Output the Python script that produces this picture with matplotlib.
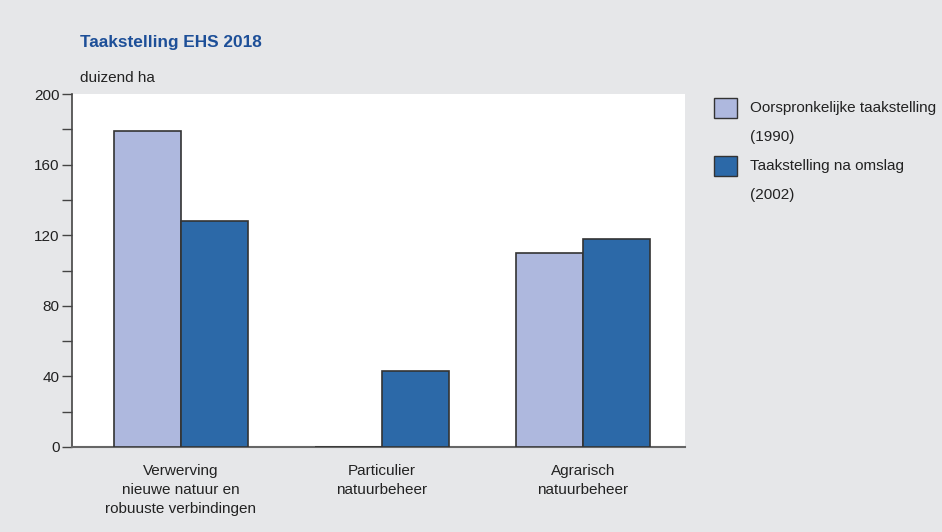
import matplotlib.pyplot as plt
from matplotlib.patches import Rectangle
from matplotlib.ticker import MultipleLocator
import numpy as np

plt.rcParams["font.family"] = ["Liberation Sans", "DejaVu Sans"]

categories = ["Verwerving\nnieuwe natuur en\nrobuuste verbindingen",
              "Particulier\nnatuurbeheer",
              "Agrarisch\nnatuurbeheer"]
orig_1990 = [179, 0, 110]
na_omslag_2002 = [128, 43, 118]
series_labels = ["Oorspronkelijke taakstelling\n(1990)", "Taakstelling na omslag\n(2002)"]

BG = "#e6e7e9"
LIGHT = "#aeb8de"
DARK = "#2c69a8"
EDGE = "#333333"
TITLE_BLUE = "#1d4f98"
FS = 11


def main():
    fig = plt.figure(figsize=(9.42, 5.32), dpi=100, facecolor=BG)
    W, H = 942, 532
    # plot area in pixels: x 72..685, y 94..447
    ax = fig.add_axes([72 / W, 1 - 447 / H, (685 - 72) / W, (447 - 94) / H])
    ax.set_facecolor("white")

    x = np.arange(len(categories))
    w = 0.333
    ax.bar(x - w / 2, orig_1990, width=w, color=LIGHT, edgecolor=EDGE, linewidth=1.2, zorder=3)
    ax.bar(x + w / 2, na_omslag_2002, width=w, color=DARK, edgecolor=EDGE, linewidth=1.2, zorder=3)

    ax.set_xlim(-0.542, 2.507)
    ax.set_ylim(0, 200)
    ax.yaxis.set_major_locator(MultipleLocator(40))
    ax.yaxis.set_minor_locator(MultipleLocator(20))
    ax.tick_params(axis="y", which="major", length=7, width=1, color="#444444",
                   labelsize=FS, labelcolor="#222222", pad=2)
    ax.tick_params(axis="y", which="minor", length=7, width=1, color="#444444")
    ax.set_xticks(x)
    ax.set_xticklabels(categories, fontsize=FS, color="#222222", linespacing=1.47)
    ax.tick_params(axis="x", length=0, pad=12)

    for s in ["top", "right"]:
        ax.spines[s].set_visible(False)
    ax.spines["left"].set_color("#444444")
    ax.spines["left"].set_linewidth(1.2)
    ax.spines["bottom"].set_color("#666666")
    ax.spines["bottom"].set_linewidth(1.5)

    fig.text(80 / W, 1 - 42 / H, "Taakstelling EHS 2018", fontsize=12.4, fontweight="bold",
             color=TITLE_BLUE, va="center", ha="left")
    fig.text(80 / W, 1 - 78 / H, "duizend ha", fontsize=FS, color="#222222",
             va="center", ha="left")

    # legend
    colors = [LIGHT, DARK]
    tops = [98, 156]
    for lab, c, t in zip(series_labels, colors, tops):
        fig.patches.append(Rectangle((714 / W, 1 - (t + 20) / H), 23 / W, 20 / H,
                                     transform=fig.transFigure, facecolor=c,
                                     edgecolor=EDGE, linewidth=1))
        lines = lab.split("\n")
        fig.text(750 / W, 1 - (t + 10) / H, lines[0], fontsize=FS, color="#222222",
                 va="center", ha="left")
        fig.text(750 / W, 1 - (t + 39) / H, lines[1], fontsize=FS, color="#222222",
                 va="center", ha="left")

    fig.savefig("out.png", dpi=100, facecolor=BG)


if __name__ == "__main__":
    main()
